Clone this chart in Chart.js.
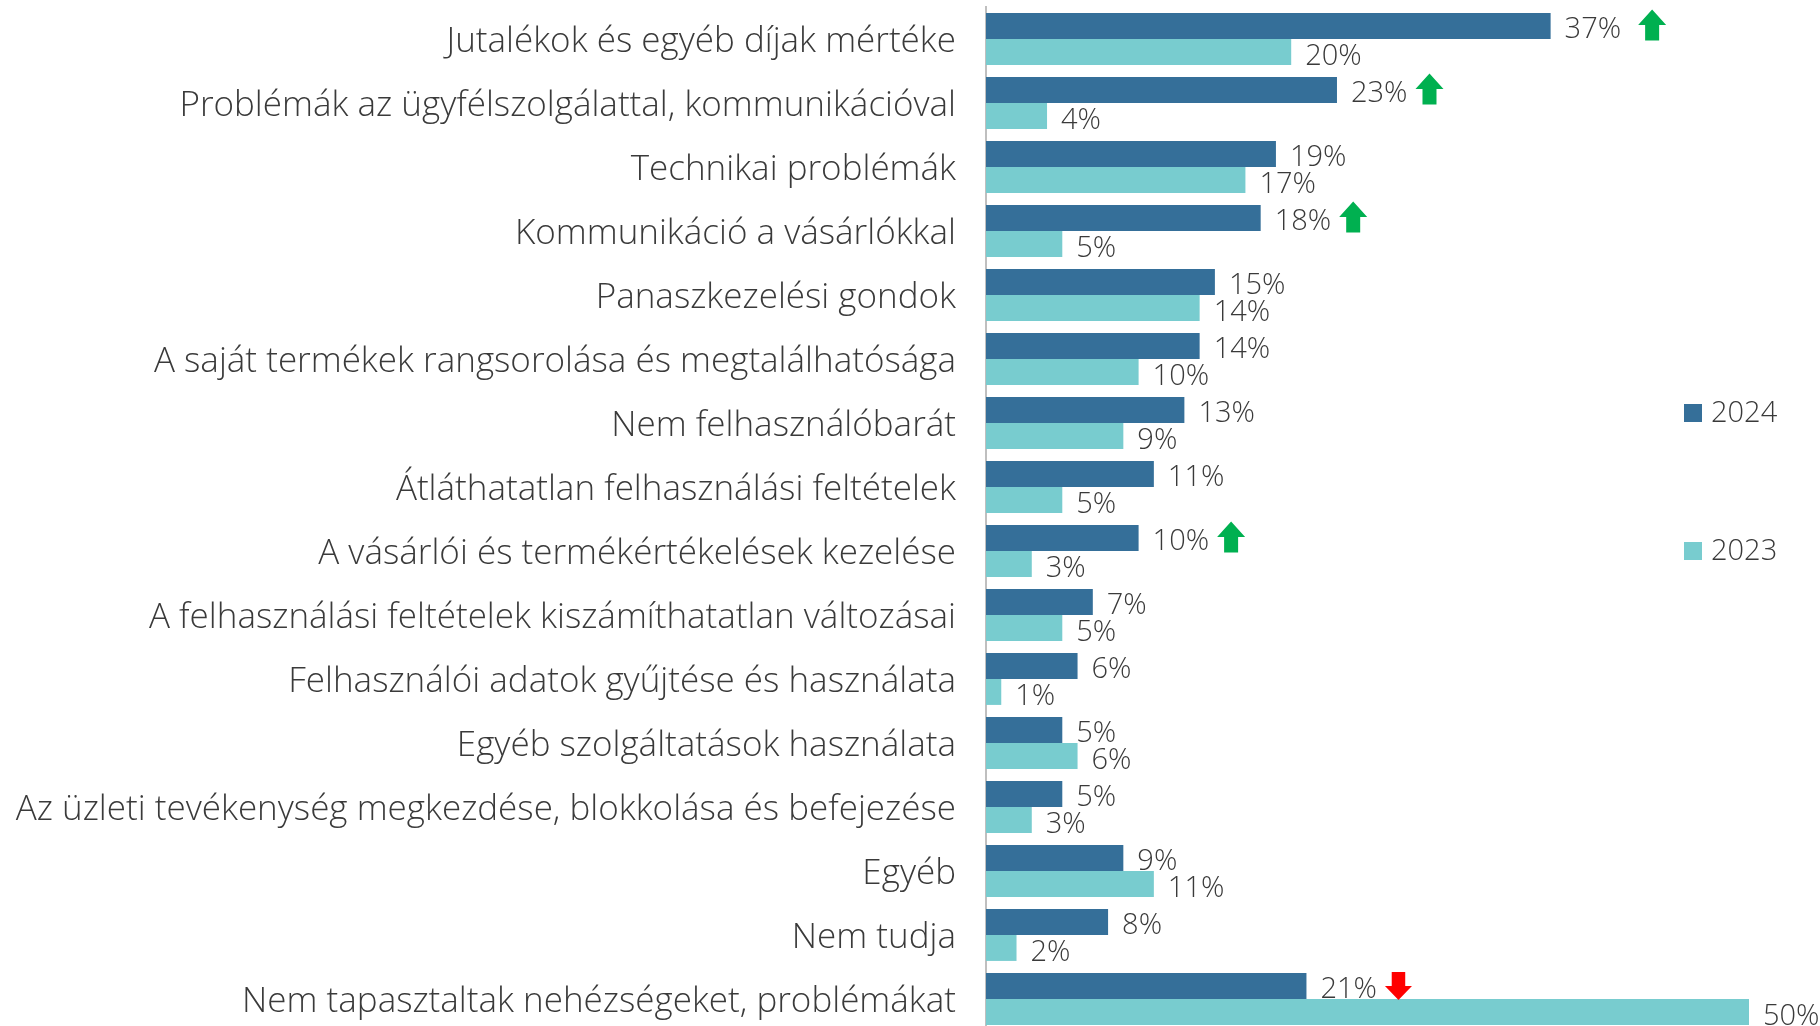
<!DOCTYPE html>
<html>
<head>
<meta charset="utf-8">
<script src="https://cdn.jsdelivr.net/npm/chart.js@4.4.1/dist/chart.umd.min.js"></script>
<style>
  html, body { margin: 0; padding: 0; background: #fff; overflow: hidden; }
  #wrap { width: 1820px; height: 1031px; position: relative; }
</style>
</head>
<body>
<div id="wrap"><canvas id="chart"></canvas></div>
<script>
// Adatok
const categories = [
  'Jutalékok és egyéb díjak mértéke',
  'Problémák az ügyfélszolgálattal, kommunikációval',
  'Technikai problémák',
  'Kommunikáció a vásárlókkal',
  'Panaszkezelési gondok',
  'A saját termékek rangsorolása és megtalálhatósága',
  'Nem felhasználóbarát',
  'Átláthatatlan felhasználási feltételek',
  'A vásárlói és termékértékelések kezelése',
  'A felhasználási feltételek kiszámíthatatlan változásai',
  'Felhasználói adatok gyűjtése és használata',
  'Egyéb szolgáltatások használata',
  'Az üzleti tevékenység megkezdése, blokkolása és befejezése',
  'Egyéb',
  'Nem tudja',
  'Nem tapasztaltak nehézségeket, problémákat'
];
const values2024 = [37, 23, 19, 18, 15, 14, 13, 11, 10, 7, 6, 5, 5, 9, 8, 21];
const values2023 = [20, 4, 17, 5, 14, 10, 9, 5, 3, 5, 1, 6, 3, 11, 2, 50];
// változás jelzése (fel / le)
const trend = ['up', 'up', null, 'up', null, null, null, null, 'up', null, null, null, null, null, null, 'down'];

const FONT = '"Segoe UI Light", "Segoe UI", "Open Sans", sans-serif';
const TEXT = '#3a3a3a';
const C2024 = '#356f99';
const C2023 = '#78cccf';

// értékcímkék + nyilak
const labelsPlugin = {
  id: 'barLabels',
  afterDatasetsDraw(chart) {
    const ctx = chart.ctx;
    ctx.save();
    ctx.font = '300 29px ' + FONT;
    ctx.fillStyle = TEXT;
    ctx.textBaseline = 'middle';
    ctx.textAlign = 'left';
    chart.data.datasets.forEach((ds, di) => {
      chart.getDatasetMeta(di).data.forEach((bar, i) => {
        const txt = ds.data[i] + '%';
        const x = bar.x + 14;
        const y = bar.y + (di === 0 ? 4 : 5);
        ctx.fillText(txt, x, y);
        if (di === 0 && trend[i]) {
          const w = ctx.measureText(txt).width;
          const ax = x + w + (i === 0 ? 17 : 8);
          drawArrow(ctx, ax, bar.y, trend[i]);
        }
      });
    });
    ctx.restore();
  }
};

function drawArrow(ctx, x, cy, dir) {
  const up = dir === 'up';
  const w = up ? 28 : 27;
  const h = up ? 31 : 28;
  const head = h * 0.5;
  const stem = w * 0.5;
  const top = cy - h / 2 - (up ? 1 : 0);
  ctx.save();
  ctx.fillStyle = up ? '#00b050' : '#ff0000';
  ctx.beginPath();
  if (up) {
    ctx.moveTo(x + w / 2, top);
    ctx.lineTo(x + w, top + head);
    ctx.lineTo(x + w / 2 + stem / 2, top + head);
    ctx.lineTo(x + w / 2 + stem / 2, top + h);
    ctx.lineTo(x + w / 2 - stem / 2, top + h);
    ctx.lineTo(x + w / 2 - stem / 2, top + head);
    ctx.lineTo(x, top + head);
  } else {
    ctx.moveTo(x + w / 2 - stem / 2, top);
    ctx.lineTo(x + w / 2 + stem / 2, top);
    ctx.lineTo(x + w / 2 + stem / 2, top + h - head);
    ctx.lineTo(x + w, top + h - head);
    ctx.lineTo(x + w / 2, top + h);
    ctx.lineTo(x, top + h - head);
    ctx.lineTo(x + w / 2 - stem / 2, top + h - head);
  }
  ctx.closePath();
  ctx.fill();
  ctx.restore();
}

// jelmagyarázat a jobb oldalon
const legendPlugin = {
  id: 'sideLegend',
  afterDraw(chart) {
    const ctx = chart.ctx;
    const items = [
      { text: '2024', color: C2024, y: 413 },
      { text: '2023', color: C2023, y: 551 }
    ];
    ctx.save();
    ctx.font = '300 29px ' + FONT;
    ctx.textBaseline = 'middle';
    items.forEach(it => {
      ctx.fillStyle = it.color;
      ctx.fillRect(1684, it.y - 9, 18, 18);
      ctx.fillStyle = TEXT;
      ctx.fillText(it.text, 1711, it.y + 1);
    });
    ctx.restore();
  }
};

new Chart(document.getElementById('chart'), {
  type: 'bar',
  data: {
    labels: categories,
    datasets: [
      { label: '2024', data: values2024, backgroundColor: C2024, categoryPercentage: 0.81, barPercentage: 1.0 },
      { label: '2023', data: values2023, backgroundColor: C2023, categoryPercentage: 0.81, barPercentage: 1.0 }
    ]
  },
  options: {
    indexAxis: 'y',
    responsive: true,
    maintainAspectRatio: false,
    animation: false,
    layout: { padding: { top: 7, right: 71, bottom: 0, left: 0 }, autoPadding: false },
    plugins: { legend: { display: false }, tooltip: { enabled: false } },
    scales: {
      x: { display: false, min: 0, max: 50 },
      y: {
        grid: { display: false, drawTicks: false },
        border: { display: true, color: '#bfbfbf', width: 2 },
        ticks: { color: TEXT, font: { family: FONT, size: 35, weight: '300' }, padding: 30, autoSkip: false, labelOffset: 3 },
        afterFit(scale) {
          scale.width = 986;
          scale.paddingTop = 0;
          scale.paddingBottom = 0;
        }
      }
    }
  },
  plugins: [labelsPlugin, legendPlugin]
});
</script>
</body>
</html>
